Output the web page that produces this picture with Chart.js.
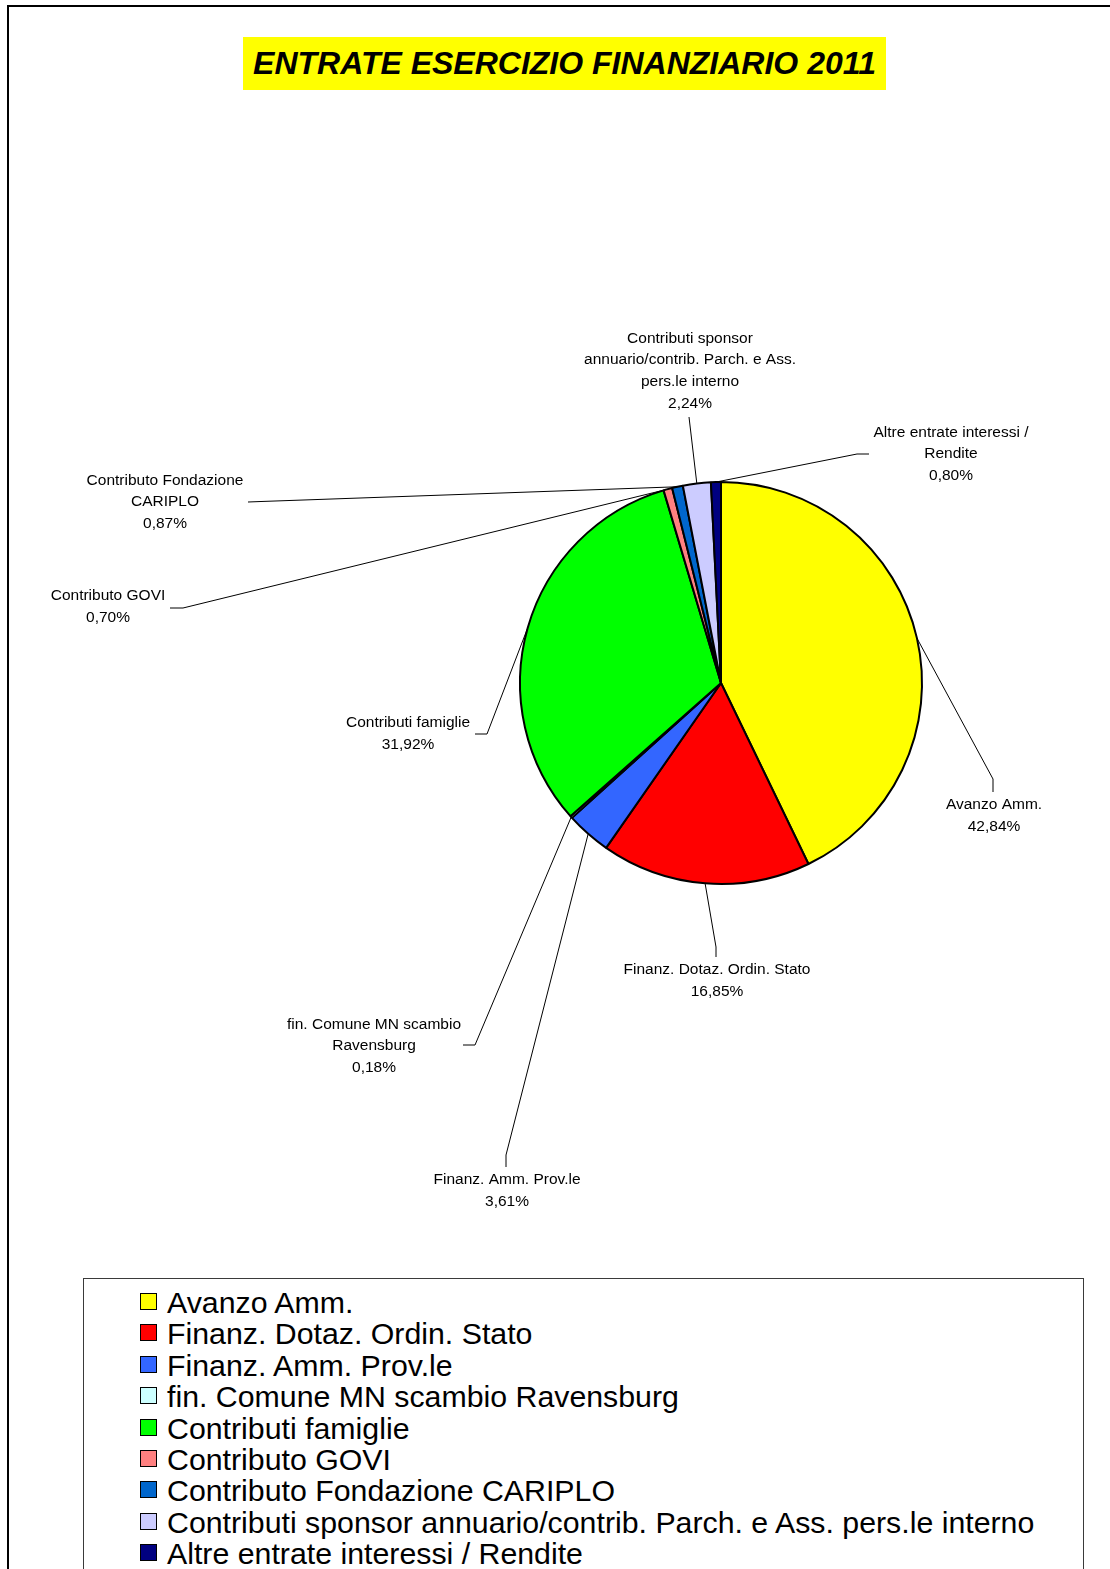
<!DOCTYPE html>
<html>
<head>
<meta charset="utf-8">
<script src="https://cdn.jsdelivr.net/npm/chart.js@4.4.1/dist/chart.umd.min.js"></script>
<style>
  html, body { margin: 0; padding: 0; background: #fff; width: 1110px; height: 1569px; overflow: hidden; }
  #frame { position: absolute; left: 7px; top: 5px; width: 1300px; height: 1800px;
           border-left: 2px solid #000; border-top: 2px solid #000; box-sizing: border-box; }
  #title { position: absolute; left: 243px; top: 37px; width: 643px; height: 53px; background: #ffff00;
           font: italic bold 32px "Liberation Sans", Arial, sans-serif; line-height: 53px;
           text-align: center; color: #000; white-space: nowrap; }
  #chartBox { position: absolute; left: 0; top: 0; width: 1110px; height: 1569px; }
  #legend { position: absolute; left: 83px; top: 1278px; width: 1001px; height: 400px;
            border: 1px solid #3a3a3a; box-sizing: border-box; background: #fff; }
  .li { position: absolute; left: 56px; height: 31px; line-height: 31px; white-space: nowrap;
        font: 30.3px "Liberation Sans", Arial, sans-serif; color: #000; }
  .sw { position: absolute; left: 0; top: 7px; width: 17px; height: 17px; border: 1.5px solid #000; box-sizing: border-box; }
  .tx { position: absolute; left: 27px; top: 0; }
</style>
</head>
<body>
<div id="frame"></div>
<div id="title">ENTRATE ESERCIZIO FINANZIARIO 2011</div>
<div id="chartBox"><canvas id="c" width="1110" height="1569"></canvas></div>
<div id="legend"></div>
<script>
// ---- data ----
const categories = [
  "Avanzo Amm.",
  "Finanz. Dotaz. Ordin. Stato",
  "Finanz. Amm. Prov.le",
  "fin. Comune MN scambio Ravensburg",
  "Contributi famiglie",
  "Contributo GOVI",
  "Contributo Fondazione CARIPLO",
  "Contributi sponsor annuario/contrib. Parch. e Ass. pers.le interno",
  "Altre entrate interessi / Rendite"
];
const percentages = [42.84, 16.85, 3.61, 0.18, 31.92, 0.70, 0.87, 2.24, 0.80];
const sliceColors = ["#FFFF00", "#FF0000", "#3366FF", "#CCFFFF", "#00FF00", "#FF8080", "#0066CC", "#CCCCFF", "#000080"];
const titleText = "ENTRATE ESERCIZIO FINANZIARIO 2011";

// ---- label layout (positions / wrapping only) ----
const labelLayout = [
  { lines: ["Avanzo Amm."], cx: 994, cy: 816, elbow: [993, 779], end: [993, 792] },
  { lines: ["Finanz. Dotaz. Ordin. Stato"], cx: 717, cy: 981, elbow: [716, 947], end: [716, 957] },
  { lines: ["Finanz. Amm. Prov.le"], cx: 507, cy: 1191, elbow: [506, 1155], end: [506, 1167] },
  { lines: ["fin. Comune MN scambio", "Ravensburg"], cx: 374, cy: 1046, elbow: [475, 1045], end: [463, 1045] },
  { lines: ["Contributi famiglie"], cx: 408, cy: 734, elbow: [487, 734], end: [475, 734] },
  { lines: ["Contributo GOVI"], cx: 108, cy: 607, elbow: [183, 608], end: [170, 608] },
  { lines: ["Contributo Fondazione", "CARIPLO"], cx: 165, cy: 502, elbow: [261, 501.5], end: [248, 502] },
  { lines: ["Contributi sponsor", "annuario/contrib. Parch. e Ass.", "pers.le interno"], cx: 690, cy: 371, elbow: [689, 417], end: [689, 417] },
  { lines: ["Altre entrate interessi /", "Rendite"], cx: 951, cy: 454, elbow: [857, 454], end: [869, 454] }
];

function fmtPct(v) { return v.toFixed(2).replace('.', ',') + '%'; }

const leaderLabels = {
  id: 'leaderLabels',
  afterDatasetsDraw(chart) {
    const ctx = chart.ctx;
    const meta = chart.getDatasetMeta(0);
    const vals = chart.data.datasets[0].data;
    ctx.save();
    ctx.strokeStyle = '#000';
    ctx.lineWidth = 1;
    ctx.fillStyle = '#000';
    ctx.font = '15.5px "Liberation Sans", Arial, sans-serif';
    ctx.textAlign = 'center';
    ctx.textBaseline = 'middle';
    const lh = 21.6;
    meta.data.forEach((arc, i) => {
      const L = labelLayout[i];
      const p = arc.getProps(['x', 'y', 'startAngle', 'endAngle', 'outerRadius'], true);
      const mid = (p.startAngle + p.endAngle) / 2;
      const ax = p.x + Math.cos(mid) * p.outerRadius;
      const ay = p.y + Math.sin(mid) * p.outerRadius;
      ctx.beginPath();
      ctx.moveTo(ax, ay);
      ctx.lineTo(L.elbow[0], L.elbow[1]);
      ctx.lineTo(L.end[0], L.end[1]);
      ctx.stroke();
      const lines = L.lines.concat([fmtPct(vals[i])]);
      const y0 = L.cy - (lines.length - 1) * lh / 2;
      lines.forEach((t, k) => ctx.fillText(t, L.cx, y0 + k * lh));
    });
    ctx.restore();
  }
};

new Chart(document.getElementById('c'), {
  type: 'pie',
  data: {
    labels: categories,
    datasets: [{
      data: percentages,
      backgroundColor: sliceColors,
      borderColor: '#000',
      borderWidth: 2
    }]
  },
  options: {
    responsive: false,
    animation: false,
    layout: { padding: { left: 519, right: 187, top: 481, bottom: 684 } },
    plugins: { legend: { display: false }, tooltip: { enabled: false }, title: { display: false } }
  },
  plugins: [leaderLabels]
});

// legend
const leg = document.getElementById('legend');
categories.forEach((name, i) => {
  const row = document.createElement('div');
  row.className = 'li';
  row.style.top = (7 + i * 31.4) + 'px';
  const sw = document.createElement('span');
  sw.className = 'sw';
  sw.style.background = sliceColors[i];
  const tx = document.createElement('span');
  tx.className = 'tx';
  tx.textContent = name;
  row.appendChild(sw);
  row.appendChild(tx);
  leg.appendChild(row);
});
document.getElementById('title').textContent = titleText;
</script>
</body>
</html>
